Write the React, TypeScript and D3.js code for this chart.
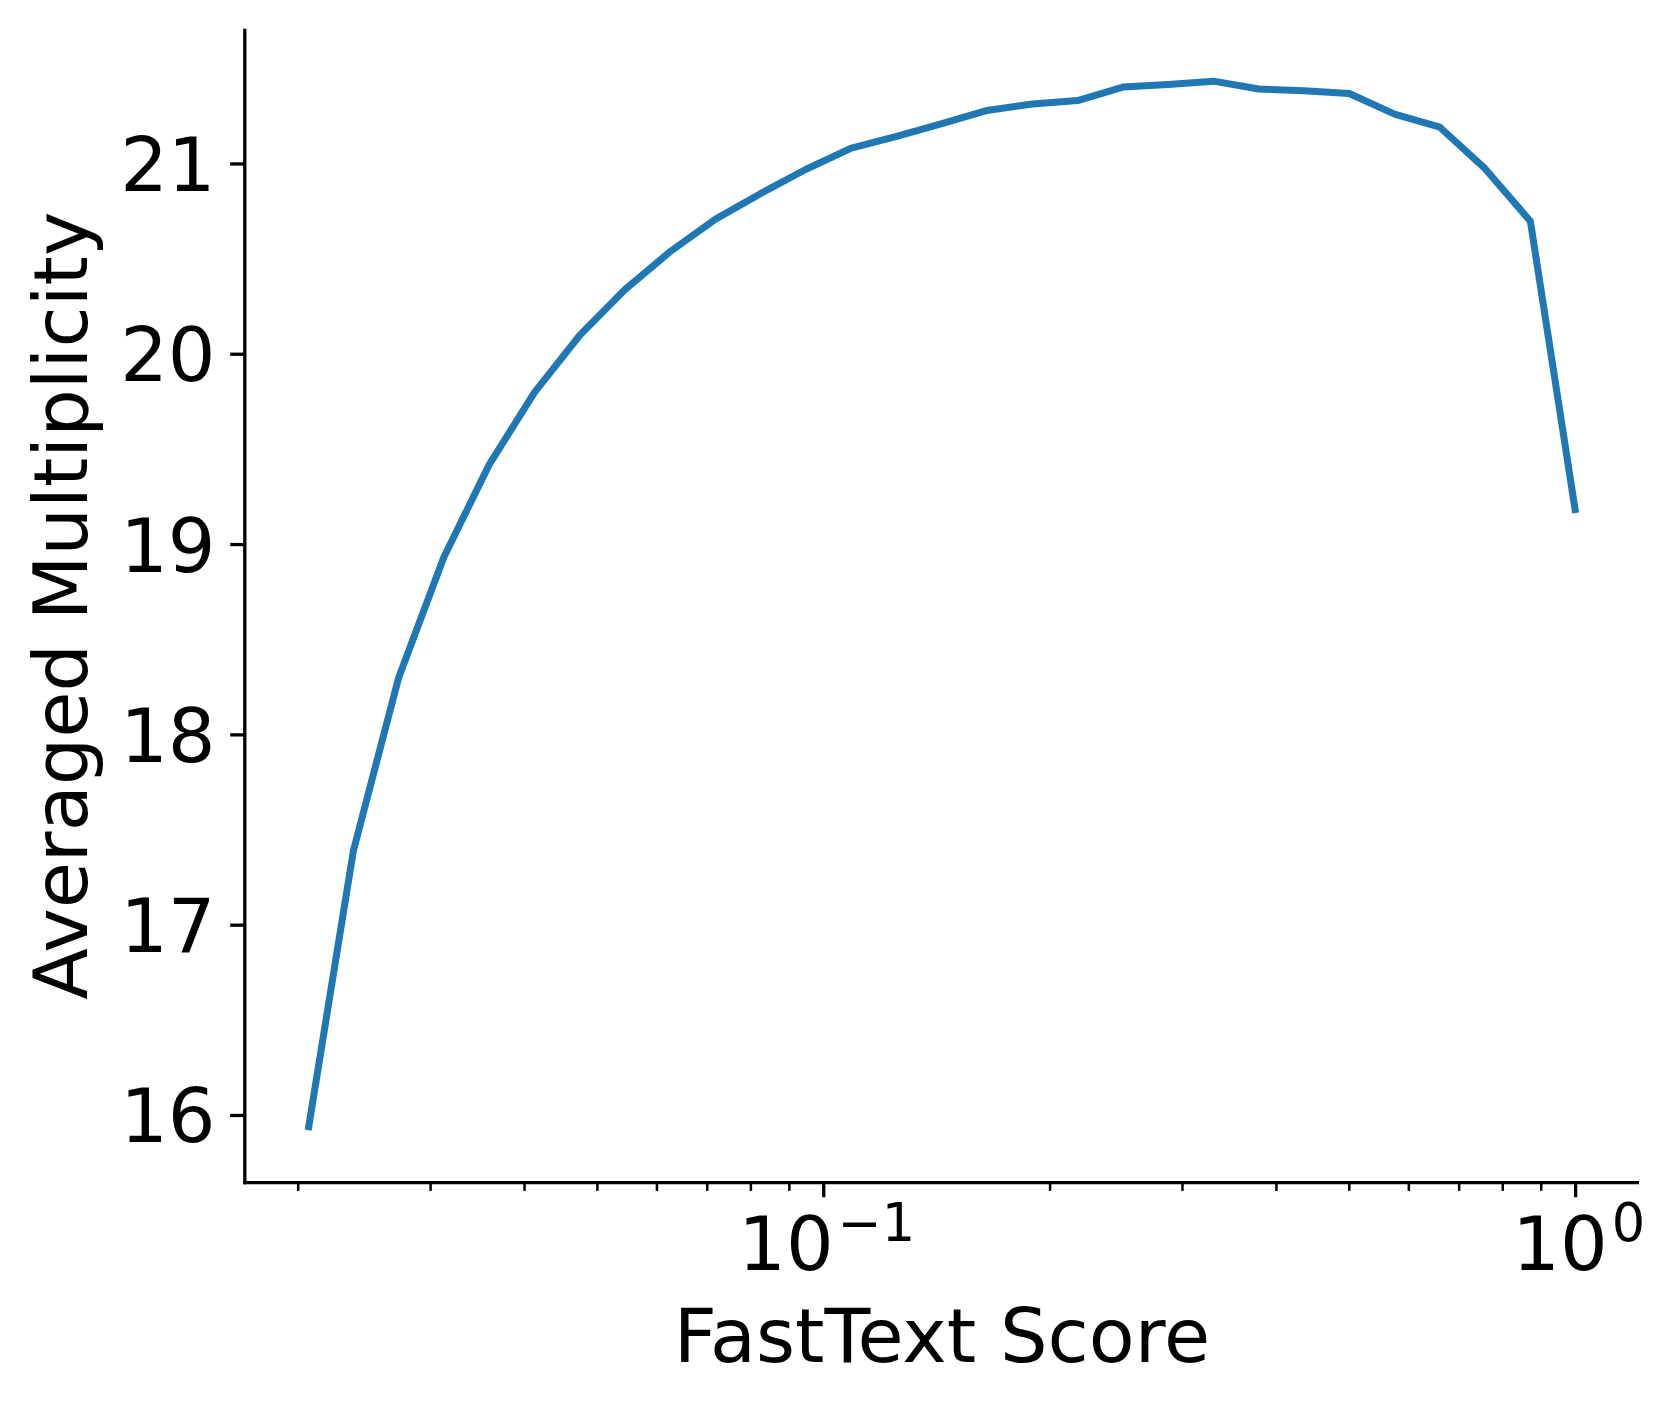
import React, { useEffect, useRef } from 'react';
import * as d3 from 'd3';

// FastText score bins (log spaced) and the averaged multiplicity in each bin
const fastTextScores = [
  0.02062, 0.02368, 0.0272, 0.03125, 0.0359, 0.04124, 0.04737, 0.05441, 0.0625,
  0.07179, 0.08247, 0.09473, 0.1088, 0.125, 0.1436, 0.1649, 0.1895, 0.2176,
  0.25, 0.2872, 0.3299, 0.3789, 0.4353, 0.5, 0.5743, 0.6598, 0.7579, 0.8706, 1.0,
];
const avgMultiplicity = [
  15.923, 17.39, 18.3, 18.935, 19.42, 19.8, 20.1, 20.34, 20.54,
  20.71, 20.845, 20.972, 21.083, 21.145, 21.212, 21.281, 21.315, 21.333,
  21.404, 21.418, 21.435, 21.394, 21.384, 21.37, 21.262, 21.193, 20.975, 20.699, 19.166,
];
const yTicks = [16, 17, 18, 19, 20, 21];
const xMajorTicks = [0.1, 1];
const xMajorLabels = [['10', '\u22121'], ['10', '0']];
const xMinorTicks = [0.02, 0.03, 0.04, 0.05, 0.06, 0.07, 0.08, 0.09, 0.2, 0.3, 0.4, 0.5, 0.6, 0.7, 0.8, 0.9];

const xTitle = 'FastText Score';
const yTitle = 'Averaged Multiplicity';

export default function App() {
  const ref = useRef<SVGSVGElement>(null);

  useEffect(() => {
    const width = 1669;
    const height = 1406;
    const left = 244.8, right = 1639, top = 28.7, bottom = 1182.6;
    const font = 'DejaVu Sans, sans-serif';
    const fs = 75;

    const svg = d3.select(ref.current);
    svg.selectAll('*').remove();
    svg.attr('width', width).attr('height', height);

    // matplotlib style 5% margins (log space for x)
    const lx = d3.extent(fastTextScores.map(Math.log10)) as [number, number];
    const px = (lx[1] - lx[0]) * 0.05;
    const x = d3.scaleLog()
      .domain([Math.pow(10, lx[0] - px), Math.pow(10, lx[1] + px)])
      .range([left, right]);
    const ey = d3.extent(avgMultiplicity) as [number, number];
    const py = (ey[1] - ey[0]) * 0.05;
    const y = d3.scaleLinear()
      .domain([ey[0] - py, ey[1] + py])
      .range([bottom, top]);

    // line
    const line = d3.line<number>()
      .x((d, i) => x(fastTextScores[i]))
      .y(d => y(d));
    svg.append('path')
      .datum(avgMultiplicity)
      .attr('d', line)
      .attr('fill', 'none')
      .attr('stroke', '#1f77b4')
      .attr('stroke-width', 7)
      .attr('stroke-linejoin', 'round')
      .attr('stroke-linecap', 'butt');

    // spines
    svg.append('line')
      .attr('x1', left).attr('x2', left).attr('y1', top).attr('y2', bottom + 1.65)
      .attr('stroke', 'black').attr('stroke-width', 3.3);
    svg.append('line')
      .attr('x1', left - 1.65).attr('x2', right).attr('y1', bottom).attr('y2', bottom)
      .attr('stroke', 'black').attr('stroke-width', 3.3);

    // y ticks
    const yt = svg.append('g');
    yt.selectAll('line').data(yTicks).enter().append('line')
      .attr('x1', left - 14.6).attr('x2', left)
      .attr('y1', d => y(d)).attr('y2', d => y(d))
      .attr('stroke', 'black').attr('stroke-width', 3.3);
    yt.selectAll('text').data(yTicks).enter().append('text')
      .attr('x', left - 29.2)
      .attr('y', d => y(d) + 27)
      .attr('text-anchor', 'end')
      .attr('font-family', font)
      .attr('font-size', fs)
      .text(d => d);

    // x ticks
    const xt = svg.append('g');
    xt.selectAll('line.minor').data(xMinorTicks).enter().append('line')
      .attr('class', 'minor')
      .attr('x1', d => x(d)).attr('x2', d => x(d))
      .attr('y1', bottom).attr('y2', bottom + 8.3)
      .attr('stroke', 'black').attr('stroke-width', 2.5);
    xt.selectAll('line.major').data(xMajorTicks).enter().append('line')
      .attr('class', 'major')
      .attr('x1', d => x(d)).attr('x2', d => x(d))
      .attr('y1', bottom).attr('y2', bottom + 14.6)
      .attr('stroke', 'black').attr('stroke-width', 3.3);
    const lbl = xt.selectAll('text').data(xMajorTicks).enter().append('text')
      .attr('x', d => x(d) + 3)
      .attr('y', bottom + 87)
      .attr('text-anchor', 'middle')
      .attr('font-family', font)
      .attr('font-size', fs);
    lbl.append('tspan').text((d, i) => xMajorLabels[i][0]);
    lbl.append('tspan')
      .attr('dy', -29)
      .attr('dx', 4)
      .attr('font-size', fs * 0.7)
      .text((d, i) => xMajorLabels[i][1]);

    // axis titles
    svg.append('text')
      .attr('x', (left + right) / 2)
      .attr('y', 1362)
      .attr('text-anchor', 'middle')
      .attr('font-family', font)
      .attr('font-size', fs)
      .text(xTitle);
    svg.append('text')
      .attr('transform', `translate(87,${(top + bottom) / 2}) rotate(-90)`)
      .attr('text-anchor', 'middle')
      .attr('font-family', font)
      .attr('font-size', fs)
      .text(yTitle);
  }, []);

  return (
    <svg ref={ref} style={{ position: 'absolute', left: 0, top: 0, background: 'white' }} />
  );
}
